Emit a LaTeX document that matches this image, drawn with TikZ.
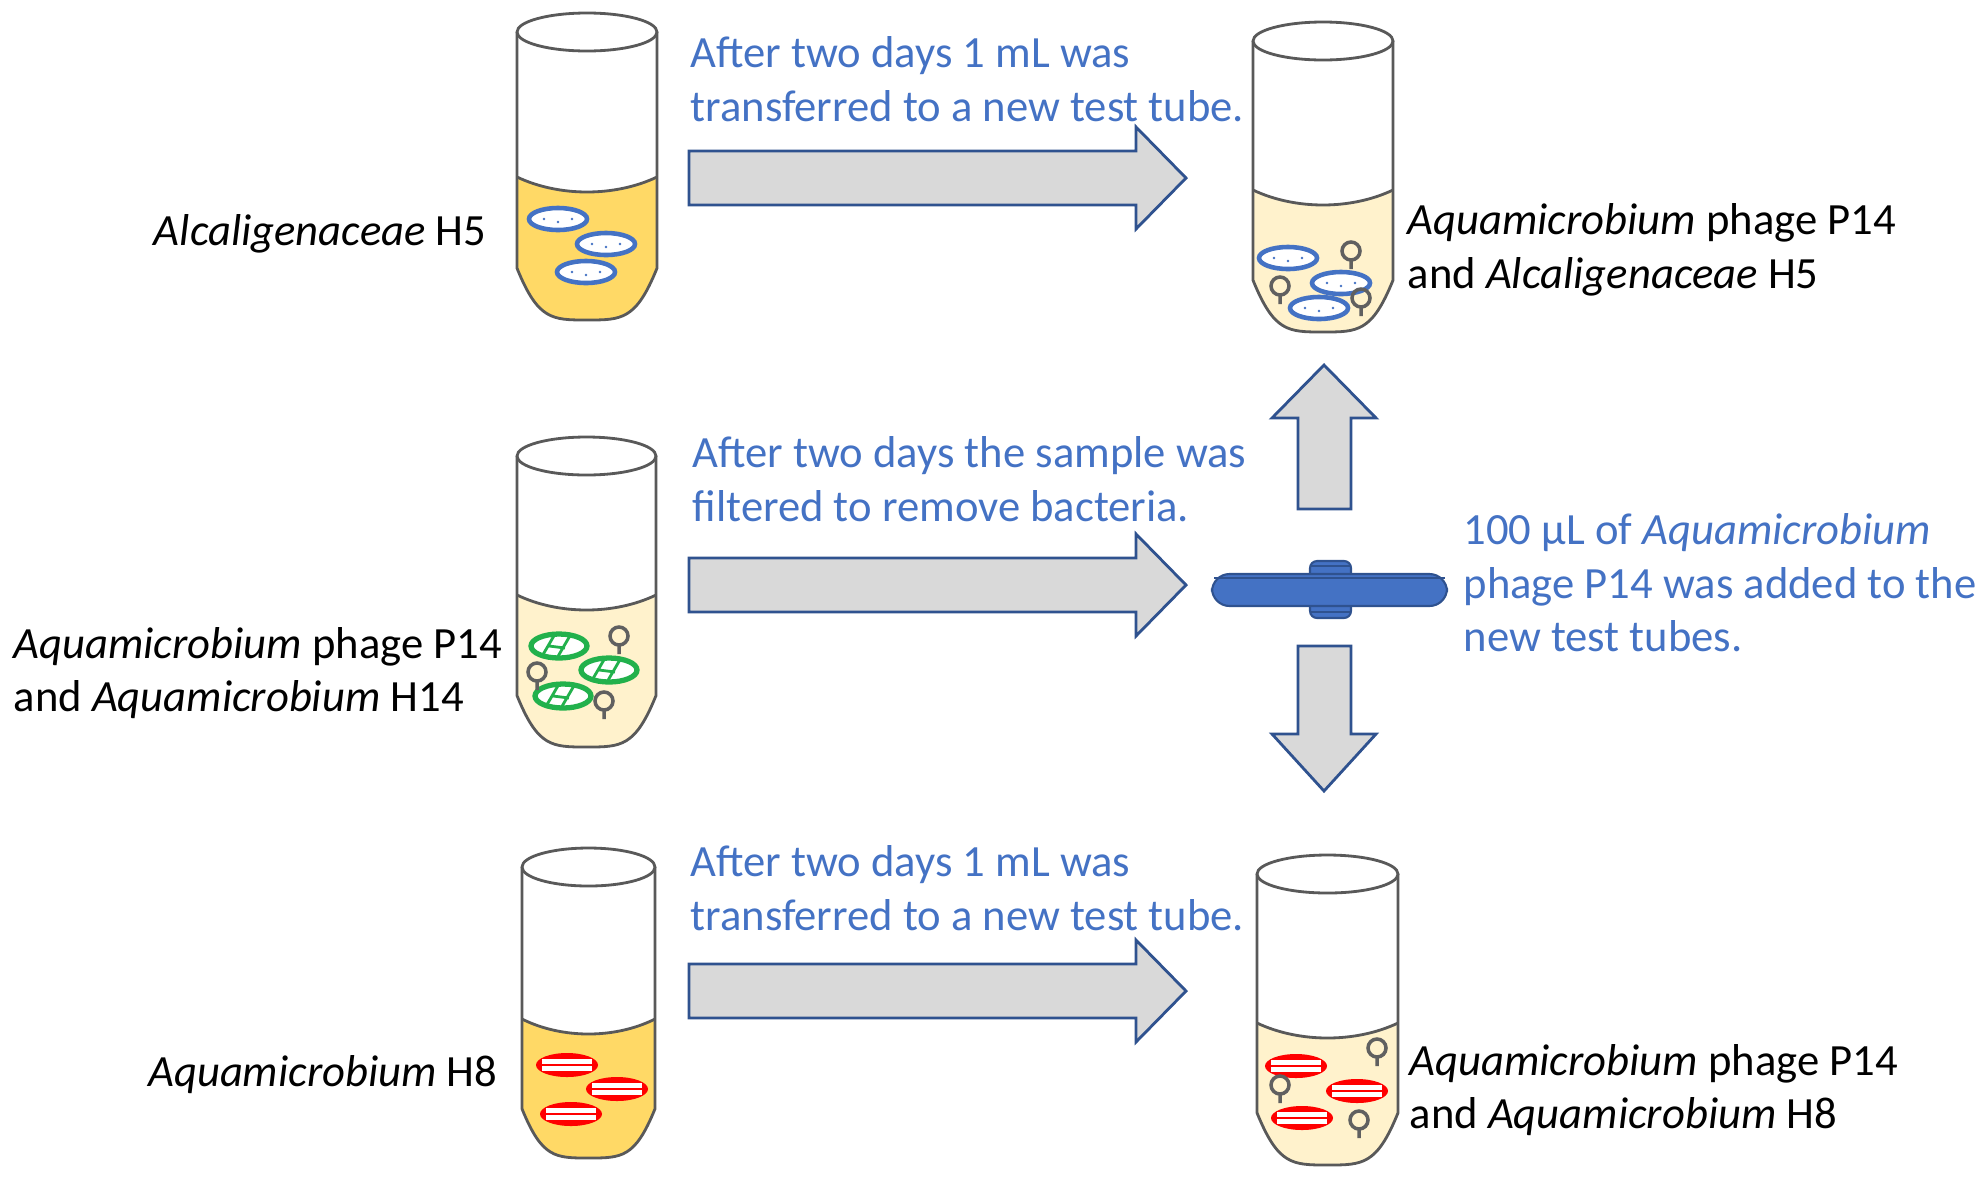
\documentclass[tikz,border=0pt]{standalone}
\usepackage{fontspec}
\setmainfont{Carlito}
\begin{document}
\definecolor{tblue}{HTML}{4472C4}
\definecolor{dblue}{HTML}{2F528F}
\definecolor{orng}{HTML}{FFD966}
\definecolor{lite}{HTML}{FFF2CC}
\definecolor{gbac}{HTML}{22B14C}
\newcommand\tube[6]{%
 \pgfmathsetmacro\cx{(#1+#2)/2}\pgfmathsetmacro\w{#2-#1}%
 \pgfmathsetmacro\bs{#5-0.37*\w}%
 \fill[#6] (#1,#4) .. controls (#1+0.3*\w,#4+20) and (#2-0.3*\w,#4+20) .. (#2,#4)
   -- (#2,\bs) .. controls (#2-0.15*\w,#5) and (\cx+0.25*\w,#5) .. (\cx,#5)
   .. controls (\cx-0.25*\w,#5) and (#1+0.15*\w,#5) .. (#1,\bs) -- cycle;
 \draw[tubeline] (#1,#3) -- (#1,\bs) .. controls (#1+0.15*\w,#5) and (\cx-0.25*\w,#5) .. (\cx,#5)
   .. controls (\cx+0.25*\w,#5) and (#2-0.15*\w,#5) .. (#2,\bs) -- (#2,#3);
 \draw[tubeline] (#1,#4) .. controls (#1+0.3*\w,#4+20) and (#2-0.3*\w,#4+20) .. (#2,#4);
 \draw[tubeline,fill=white] (\cx,#3) ellipse ({\w/2} and 19);}
\newcommand\bbac[2]{\draw[tblue,line width=1.3pt,fill=white] (#1,#2) ellipse (29 and 11);
 \fill[tblue] (#1-14,#2) circle (1.3) (#1,#2+3) circle (1.3) (#1+14,#2) circle (1.3);}
\newcommand\gbac[2]{\begin{scope}\clip (#1,#2) ellipse (28 and 12);
 \fill[white] (#1,#2) ellipse (28 and 12);
 \draw[gbac,line width=0.8pt] (#1-18,#2+12) -- (#1-4,#2-12) (#1-2,#2+12) -- (#1+12,#2-12) (#1-10,#2) -- (#1+6,#2+2);\end{scope}
 \draw[gbac,line width=1.5pt] (#1,#2) ellipse (28 and 12);}
\newcommand\rbac[2]{\fill[red] (#1,#2) ellipse (31 and 12);
 \draw[white,line width=1.3pt] (#1-25,#2-3.5) -- (#1+25,#2-3.5) (#1-25,#2+3.5) -- (#1+25,#2+3.5);}
\newcommand\phg[2]{\draw[gray!75!black,line width=1pt] (#1,#2) circle (9) (#1,#2+9) -- (#1,#2+18);}
\begin{tikzpicture}[x=0.1mm,y=-0.1mm,
  tubeline/.style={draw=gray!70!black,line width=0.8pt},
  blk/.style={fill=gray!30,draw=dblue,line width=0.8pt},
  btxt/.style={text=tblue,font=\fontsize{12.7}{15.2}\selectfont,align=left,inner sep=0},
  ktxt/.style={text=black,font=\fontsize{12.7}{15.2}\selectfont,inner sep=0}]
\useasboundingbox (0,0) rectangle (1985,1182);
\tube{517}{657}{32}{177}{320}{orng}
\tube{1253}{1393}{41}{190}{332}{lite}
\tube{517}{656}{456}{595}{747}{lite}
\tube{522}{655}{867}{1019}{1158}{orng}
\tube{1257}{1398}{874}{1023}{1165}{lite}
\bbac{558}{219}\bbac{606}{244}\bbac{586}{272}
\bbac{1288}{258}\bbac{1341}{283}\bbac{1319}{308}
\phg{1351}{251}\phg{1280}{286}\phg{1361}{298}
\gbac{559}{646}\gbac{609}{670}\gbac{563}{696}
\phg{619}{636}\phg{537}{672}\phg{604}{701}
\rbac{567}{1065}\rbac{617}{1089}\rbac{571}{1114}
\rbac{1296}{1066}\rbac{1357}{1091}\rbac{1302}{1118}
\phg{1377}{1048}\phg{1280}{1085}\phg{1359}{1120}
\foreach \c in {178,585,991}{
 \draw[blk] (689,\c-27) -- (1136,\c-27) -- (1136,\c-51) -- (1186,\c) -- (1136,\c+51) -- (1136,\c+27) -- (689,\c+27) -- cycle;}
\draw[blk] (1298,509) -- (1298,418) -- (1272,418) -- (1324,365) -- (1376,418) -- (1351,418) -- (1351,509) -- cycle;
\draw[blk] (1298,646) -- (1298,734) -- (1272,734) -- (1324,791) -- (1376,734) -- (1351,734) -- (1351,646) -- cycle;
\draw[fill=tblue,draw=dblue,line width=0.6pt,rounded corners=2] (1310,561) rectangle (1351,618);
\draw[fill=tblue,draw=dblue,line width=0.6pt,rounded corners=5] (1212,574) rectangle (1447,606);
\draw[dblue,line width=0.6pt] (1214,578) -- (1445,578) (1310,566) -- (1351,566) (1310,612) -- (1351,612);
\node[btxt,anchor=west] (t1) at (690,79) {After two days 1 mL was\\transferred to a new test tube.};
\node[btxt,anchor=west] (t2) at (692,479) {After two days the sample was\\filtered to remove bacteria.};
\node[btxt,anchor=west] (t3) at (690,888) {After two days 1 mL was\\transferred to a new test tube.};
\node[btxt,anchor=west] (t4) at (1463,583) {100 µL of \textit{Aquamicrobium}\\phage P14 was added to the\\new test tubes.};
\node[ktxt,anchor=east] (l1) at (487,234) {\textit{Alcaligenaceae} H5};
\node[ktxt,anchor=west,align=left] (l2) at (1407,250) {\textit{Aquamicrobium} phage P14\\and \textit{Alcaligenaceae} H5};
\node[ktxt,anchor=west,align=left] (l3) at (13,673) {\textit{Aquamicrobium} phage P14\\and \textit{Aquamicrobium} H14};
\node[ktxt,anchor=east] (l4) at (498,1075) {\textit{Aquamicrobium} H8};
\node[ktxt,anchor=west,align=left] (l5) at (1409,1090) {\textit{Aquamicrobium} phage P14\\and \textit{Aquamicrobium} H8};
\end{tikzpicture}
\end{document}
